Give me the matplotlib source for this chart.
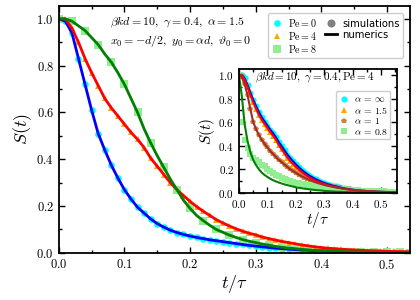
import matplotlib
matplotlib.use("Agg")
import matplotlib.pyplot as plt
from matplotlib.ticker import MultipleLocator

plt.rcParams['font.family'] = 'serif'
plt.rcParams['font.serif'] = ['cmr10']
plt.rcParams['mathtext.fontset'] = 'cm'
plt.rcParams['axes.formatter.use_mathtext'] = True

# time grid of the curves (t / tau)
t = [0.00, 0.01, 0.02, 0.03, 0.04, 0.05, 0.06, 0.07, 0.08, 0.09,
     0.10, 0.11, 0.12, 0.13, 0.14, 0.15, 0.16, 0.17, 0.18, 0.19,
     0.20, 0.21, 0.22, 0.23, 0.24, 0.25, 0.26, 0.27, 0.28, 0.29,
     0.30, 0.31, 0.32, 0.33, 0.34, 0.35, 0.36, 0.37, 0.38, 0.39,
     0.40, 0.41, 0.42, 0.43, 0.44, 0.45, 0.46, 0.47, 0.48, 0.49,
     0.50, 0.51, 0.52, 0.53, 0.54, 0.55]

# main panel: Pe = 0, 4, 8
s_pe0 = [1.000, 0.990, 0.940, 0.830, 0.720, 0.610, 0.510, 0.440, 0.375, 0.320,
         0.270, 0.230, 0.195, 0.170, 0.145, 0.125, 0.110, 0.097, 0.087, 0.079,
         0.072, 0.066, 0.061, 0.056, 0.052, 0.048, 0.044, 0.040, 0.036, 0.032,
         0.029, 0.026, 0.023, 0.020, 0.018, 0.016, 0.014, 0.012, 0.011, 0.010,
         0.009, 0.008, 0.007, 0.006, 0.005, 0.005, 0.004, 0.004, 0.003, 0.003,
         0.003, 0.002, 0.002, 0.002, 0.002, 0.002]
s_pe4 = [1.000, 1.000, 0.960, 0.900, 0.830, 0.770, 0.715, 0.660, 0.620, 0.585,
         0.550, 0.515, 0.485, 0.450, 0.405, 0.370, 0.335, 0.300, 0.270, 0.245,
         0.220, 0.198, 0.178, 0.160, 0.142, 0.128, 0.115, 0.103, 0.093, 0.084,
         0.077, 0.068, 0.061, 0.055, 0.049, 0.044, 0.039, 0.034, 0.030, 0.026,
         0.023, 0.020, 0.018, 0.016, 0.014, 0.013, 0.011, 0.010, 0.009, 0.008,
         0.007, 0.006, 0.006, 0.005, 0.005, 0.004]
s_pe8 = [1.000, 1.000, 0.990, 0.970, 0.950, 0.920, 0.890, 0.850, 0.815, 0.770,
         0.720, 0.660, 0.600, 0.530, 0.470, 0.415, 0.365, 0.315, 0.270, 0.225,
         0.190, 0.160, 0.138, 0.118, 0.100, 0.088, 0.076, 0.066, 0.057, 0.050,
         0.044, 0.038, 0.033, 0.028, 0.024, 0.021, 0.018, 0.015, 0.013, 0.011,
         0.009, 0.008, 0.007, 0.006, 0.005, 0.004, 0.004, 0.003, 0.003, 0.002,
         0.002, 0.002, 0.002, 0.001, 0.001, 0.001]

# inset: Pe = 4, different alpha
s_a_inf = [1.000, 1.000, 0.970, 0.915, 0.850, 0.790, 0.735, 0.685, 0.640, 0.605,
           0.570, 0.535, 0.505, 0.470, 0.430, 0.395, 0.360, 0.325, 0.295, 0.268,
           0.242, 0.218, 0.196, 0.177, 0.159, 0.143, 0.129, 0.116, 0.104, 0.094,
           0.085, 0.076, 0.068, 0.061, 0.055, 0.049, 0.044, 0.039, 0.035, 0.031,
           0.027, 0.024, 0.021, 0.019, 0.017, 0.015, 0.013, 0.012, 0.011, 0.010,
           0.009, 0.008, 0.007, 0.006, 0.006, 0.005]
s_a1 = [1.000, 0.980, 0.920, 0.830, 0.710, 0.600, 0.540, 0.490, 0.450, 0.415,
        0.385, 0.355, 0.330, 0.305, 0.280, 0.260, 0.240, 0.220, 0.200, 0.185,
        0.170, 0.155, 0.142, 0.130, 0.118, 0.108, 0.098, 0.089, 0.081, 0.074,
        0.067, 0.061, 0.056, 0.051, 0.046, 0.042, 0.038, 0.035, 0.032, 0.029,
        0.026, 0.024, 0.022, 0.020, 0.018, 0.016, 0.015, 0.014, 0.012, 0.011,
        0.010, 0.009, 0.008, 0.007, 0.007, 0.006]
s_a08 = [1.000, 0.820, 0.580, 0.440, 0.345, 0.280, 0.235, 0.200, 0.172, 0.152,
         0.135, 0.120, 0.107, 0.097, 0.088, 0.080, 0.072, 0.066, 0.060, 0.054,
         0.048, 0.044, 0.040, 0.036, 0.033, 0.030, 0.027, 0.024, 0.022, 0.020,
         0.017, 0.015, 0.014, 0.012, 0.011, 0.010, 0.009, 0.008, 0.007, 0.006,
         0.006, 0.005, 0.005, 0.004, 0.004, 0.003, 0.003, 0.003, 0.002, 0.002,
         0.002, 0.002, 0.002, 0.001, 0.001, 0.001]
s_a08_sim = [1.000, 0.600, 0.450, 0.380, 0.330, 0.300, 0.280, 0.260, 0.240, 0.225,
             0.205, 0.185, 0.165, 0.152, 0.140, 0.130, 0.120, 0.110, 0.100, 0.094,
             0.088, 0.082, 0.077, 0.072, 0.068, 0.064, 0.060, 0.056, 0.052, 0.049,
             0.046, 0.043, 0.040, 0.037, 0.035, 0.031, 0.031, 0.029, 0.027, 0.025,
             0.024, 0.022, 0.021, 0.019, 0.018, 0.017, 0.016, 0.015, 0.014, 0.013,
             0.013, 0.012, 0.011, 0.011, 0.010, 0.010]


def style_axes(ax, labelsize):
    ax.tick_params(which='both', direction='in', top=True, right=True, labelsize=labelsize)
    ax.tick_params(which='major', length=4.5, width=1)
    ax.tick_params(which='minor', length=2.5, width=1)
    ax.xaxis.set_major_locator(MultipleLocator(0.1))
    ax.xaxis.set_minor_locator(MultipleLocator(0.05))
    ax.yaxis.set_major_locator(MultipleLocator(0.2))
    ax.yaxis.set_minor_locator(MultipleLocator(0.1))
    for sp in ax.spines.values():
        sp.set_linewidth(1.3)


fig = plt.figure(figsize=(4.2, 3.0), dpi=100)
ax = fig.add_axes([0.140, 0.157, 0.836, 0.823])

ax.plot(t, s_pe0, 'o', color='cyan', ms=4.8, mew=0, label=r'$\mathrm{Pe}=0$')
ax.plot(t, s_pe4, '^', color='orange', ms=4.8, mew=0, label=r'$\mathrm{Pe}=4$')
ax.plot(t[::2], s_pe8[::2], 's', color='lightgreen', ms=5.2, mew=0, label=r'$\mathrm{Pe}=8$')
ax.plot(t, s_pe0, '-', color='blue', lw=2)
ax.plot(t, s_pe4, '-', color='red', lw=2)
ax.plot(t, s_pe8, '-', color='green', lw=2)
ax.plot([], [], 'o', color='gray', ms=4.8, label='simulations')
ax.plot([], [], '-', color='black', lw=2, label='numerics')

ax.set_xlim(0, 0.535)
ax.set_ylim(0, 1.055)
style_axes(ax, 9)
ax.set_xlabel(r'$t/\tau$', fontsize=13, labelpad=1)
ax.set_ylabel(r'$S(t)$', fontsize=13, labelpad=2)

ax.text(0.146, 0.935, r'$\beta kd=10,\ \gamma=0.4,\ \alpha=1.5$',
        transform=ax.transAxes, fontsize=8.6, va='center')
ax.text(0.146, 0.86, r'$x_0=-d/2,\ y_0=\alpha d,\ \vartheta_0=0$',
        transform=ax.transAxes, fontsize=8.6, va='center')

leg = ax.legend(ncol=2, loc='upper right', bbox_to_anchor=(0.995, 0.99),
                prop={'family': 'DejaVu Sans', 'size': 7.2}, handlelength=1.2,
                handletextpad=0.5, columnspacing=0.8, labelspacing=0.1,
                borderpad=0.35, framealpha=1, edgecolor='#cccccc', fancybox=True)

# inset
axi = fig.add_axes([0.569, 0.357, 0.376, 0.413])
axi.plot(t, s_a_inf, 'o', color='cyan', ms=4.5, mew=0, label=r'$\alpha\,=\,\infty$')
axi.plot(t, s_pe4, '^', color='orange', ms=4.5, mew=0, label=r'$\alpha\,=\,1.5$')
axi.plot(t, s_a1, 'p', color='peru', ms=4, mew=0, label=r'$\alpha\,=\,1$')
axi.plot(t, s_a08_sim, 's', color='lightgreen', ms=4.5, mew=0, label=r'$\alpha\,=\,0.8$')
axi.plot(t, s_a_inf, '-', color='blue', lw=1.5)
axi.plot(t, s_pe4, '-', color='red', lw=1.5)
axi.plot(t, s_a1, '-', color='brown', lw=1.5)
axi.plot(t, s_a08, '-', color='green', lw=1.5)

axi.set_xlim(0, 0.555)
axi.set_ylim(0, 1.05)
style_axes(axi, 8)
axi.set_xlabel(r'$t/\tau$', fontsize=11, labelpad=0)
axi.set_ylabel(r'$S(t)$', fontsize=11, labelpad=1)
axi.text(0.1, 0.93, r'$\beta kd=10,\ \gamma=0.4,\mathrm{Pe}=4$',
         transform=axi.transAxes, fontsize=8, va='center')
axi.legend(loc='upper right', bbox_to_anchor=(0.99, 0.86),
           prop={'family': 'DejaVu Sans', 'size': 7}, handlelength=1.0,
           handletextpad=0.5, labelspacing=0.05, borderpad=0.3,
           framealpha=1, edgecolor='#cccccc')

fig.savefig('out.png', dpi=100)
